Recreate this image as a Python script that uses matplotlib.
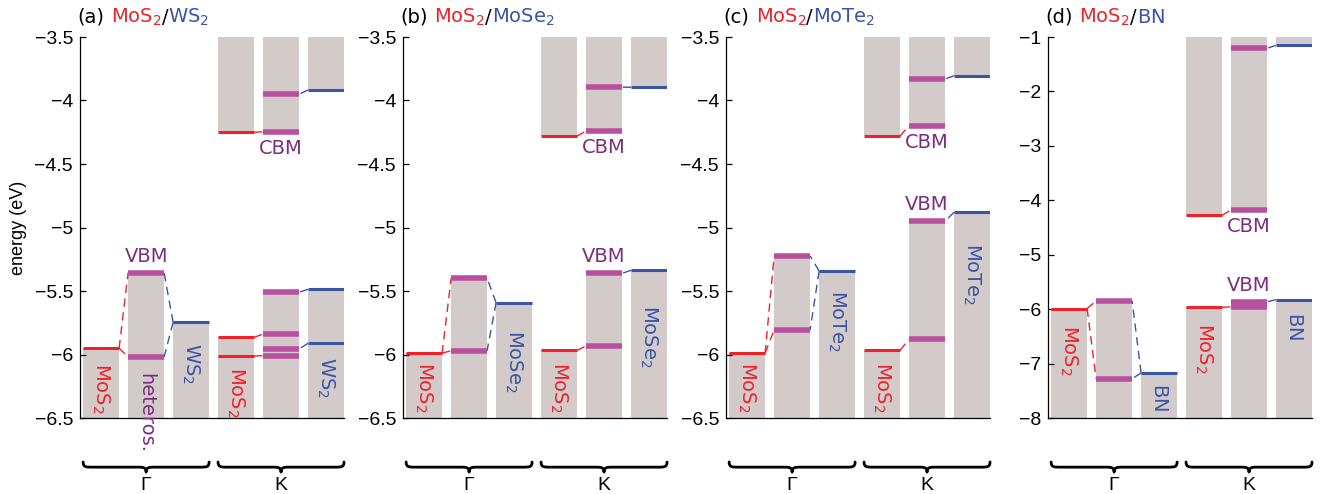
import matplotlib
matplotlib.use('Agg')
import matplotlib.pyplot as plt
import matplotlib.transforms as mtransforms
from matplotlib.path import Path
from matplotlib.patches import PathPatch
from matplotlib.offsetbox import TextArea, HPacker, AnchoredOffsetbox
from matplotlib.ticker import FixedLocator, FuncFormatter
import numpy as np

# ---------------- data (energies in eV) ----------------
panel_tags = ['(a)', '(b)', '(c)', '(d)']
partner_names = [r'$\mathregular{WS_2}$', r'$\mathregular{MoSe_2}$',
                 r'$\mathregular{MoTe_2}$', r'$\mathregular{BN}$']
mos2_name = r'$\mathregular{MoS_2}$'
ylim_low = [-6.5, -6.5, -6.5, -8.0]
ylim_high = [-3.5, -3.5, -3.5, -1.0]
ytick_step = [0.5, 0.5, 0.5, 1.0]
point_names = ['Γ', 'K']

# valence states at Gamma
gamma_mos2 = [[-5.95], [-5.99], [-5.99], [-5.99]]
gamma_hetero = [[-5.356, -6.02], [-5.40, -5.97], [-5.224, -5.807], [-5.847, -7.278]]
gamma_partner = [[-5.747], [-5.592], [-5.343], [-7.173]]
# valence states at K
k_vb_mos2 = [[-5.865, -6.012], [-5.967], [-5.967], [-5.966]]
k_vb_hetero = [[-5.51, -5.839, -5.957, -6.009], [-5.361, -5.933], [-4.951, -5.88], [-5.865, -5.957]]
k_vb_partner = [[-5.487, -5.912], [-5.337], [-4.88], [-5.826]]
# conduction states at K
k_cb_mos2 = [[-4.25], [-4.28], [-4.28], [-4.276]]
k_cb_hetero = [[-3.951, -4.246], [-3.894, -4.24], [-3.831, -4.198], [-1.208, -4.178]]
k_cb_partner = [[-3.917], [-3.896], [-3.805], [-1.153]]

# ---------------- placement of annotations ----------------
# top of rotated labels: [Gamma MoS2, Gamma partner, K MoS2, K partner]
label_tops = [[-6.067, -5.909, -6.098, -6.02],
              [-6.059, -5.807, -6.059, -5.61],
              [-6.059, -5.492, -6.059, -5.122],
              [-6.291, -7.357, -6.255, -6.052]]
hetero_label_top = -6.146
vbm_point = ['G', 'K', 'K', 'K']

# ---------------- styles ----------------
RED = '#EE2229'
BLUE = '#3A55A6'
MAG = '#B9509F'
PURPLE = '#7B2D80'
GRAY = '#D3CACA'
W, H = 1321, 494
fig = plt.figure(figsize=(W / 100, H / 100), dpi=100)
ax_left_px = [80, 403, 726, 1048]
ax_w_px = 264
ax_top_px, ax_bot_px = 37, 418
XLIM = (0.53, 6.4)
BW = 0.8
DASH = (0, (6, 4))


def fmt(v, pos=None):
    return ('%g' % v).replace('-', '\u2212')


for i in range(4):
    lo, hi = ylim_low[i], ylim_high[i]
    ax = fig.add_axes([ax_left_px[i] / W, (H - ax_bot_px) / H,
                       ax_w_px / W, (ax_bot_px - ax_top_px) / H])
    ax.set_xlim(*XLIM)
    ax.set_ylim(lo, hi)
    for s in ['top', 'right']:
        ax.spines[s].set_visible(False)
    ax.spines['left'].set_linewidth(0.9)
    ax.spines['bottom'].set_linewidth(0.9)
    ax.set_xticks([])
    ticks = np.arange(lo, hi + 1e-9, ytick_step[i])
    ax.yaxis.set_major_locator(FixedLocator(ticks))
    ax.yaxis.set_major_formatter(FuncFormatter(fmt))
    ax.tick_params(axis='y', direction='in', length=4, width=0.9, labelsize=14,
                   pad=5, labelfontfamily='Liberation Sans')

    # groups: x positions 1..3 = Gamma (MoS2, hetero, partner), 4..6 = K
    vb_groups = [(1, gamma_mos2[i], RED), (2, gamma_hetero[i], MAG), (3, gamma_partner[i], BLUE),
                 (4, k_vb_mos2[i], RED), (5, k_vb_hetero[i], MAG), (6, k_vb_partner[i], BLUE)]
    cb_groups = [(4, k_cb_mos2[i], RED), (5, k_cb_hetero[i], MAG), (6, k_cb_partner[i], BLUE)]

    for x, lev, c in vb_groups:
        top = max(lev)
        ax.bar(x, top - lo, bottom=lo, width=BW, color=GRAY, zorder=1, linewidth=0)
    for x, lev, c in cb_groups:
        bot = min(lev)
        ax.bar(x, hi - bot, bottom=bot, width=BW, color=GRAY, zorder=1, linewidth=0)

    # connectors
    def connect(xa, la, xb, lb, color, nearest):
        for ya in la:
            targets = lb if not nearest else [min(lb, key=lambda v: abs(v - ya))]
            for yb in targets:
                ax.plot([xa, xb], [ya, yb], color=color, lw=1.0, ls=DASH, zorder=2)

    connect(1 + BW / 2, gamma_mos2[i], 2 - BW / 2, gamma_hetero[i], RED, False)
    connect(3 - BW / 2, gamma_partner[i], 2 + BW / 2, gamma_hetero[i], BLUE, False)
    connect(4 + BW / 2, k_vb_mos2[i], 5 - BW / 2, k_vb_hetero[i], RED, True)
    connect(6 - BW / 2, k_vb_partner[i], 5 + BW / 2, k_vb_hetero[i], BLUE, True)
    connect(4 + BW / 2, k_cb_mos2[i], 5 - BW / 2, k_cb_hetero[i], RED, True)
    connect(6 - BW / 2, k_cb_partner[i], 5 + BW / 2, k_cb_hetero[i], BLUE, True)

    # level lines
    for x, lev, c in vb_groups + cb_groups:
        lw = 4.0 if c == MAG else 2.2
        ax.hlines(lev, x - BW / 2, x + BW / 2, colors=c, linewidth=lw,
                  capstyle='butt', zorder=3)

    # rotated species labels
    lt = label_tops[i]
    for x, name, c, yt in [(1, mos2_name, RED, lt[0]), (3, partner_names[i], BLUE, lt[1]),
                           (4, mos2_name, RED, lt[2]), (6, partner_names[i], BLUE, lt[3])]:
        ax.text(x, yt, name, color=c, rotation=-90, ha='center', va='top',
                fontsize=14, zorder=4)
    if i == 0:
        ax.text(2, hetero_label_top, 'heteros.', color=PURPLE, rotation=-90,
                ha='center', va='top', fontsize=14, zorder=4, clip_on=False)

    # CBM / VBM labels
    ax.annotate('CBM', xy=(5, min(k_cb_hetero[i])), xytext=(0, -12),
                textcoords='offset points', ha='center', va='center',
                color=PURPLE, fontsize=14, zorder=4)
    if vbm_point[i] == 'G':
        vx, vy = 2, max(gamma_hetero[i])
    else:
        vx, vy = 5, max(k_vb_hetero[i])
    ax.annotate('VBM', xy=(vx, vy), xytext=(0, 12), textcoords='offset points',
                ha='center', va='center', color=PURPLE, fontsize=14, zorder=4)

    # braces and k-point labels below the axes
    blend = mtransforms.blended_transform_factory(ax.transData, ax.transAxes)
    yt_, yf_, yb_ = -0.1155, -0.129, -0.142
    for g, (x0, x1) in enumerate([(1 - BW / 2, 3 + BW / 2), (4 - BW / 2, 6 + BW / 2)]):
        xm = (x0 + x1) / 2
        w, wm = 0.2, 0.18
        verts = [(x0, yt_), (x0, yf_), (x0 + 0.3 * w, yf_), (x0 + w, yf_),
                 (xm - wm, yf_),
                 (xm - 0.4 * wm, yf_), (xm, yf_), (xm, yb_),
                 (xm, yf_), (xm + 0.4 * wm, yf_), (xm + wm, yf_),
                 (x1 - w, yf_),
                 (x1 - 0.3 * w, yf_), (x1, yf_), (x1, yt_)]
        codes = [Path.MOVETO, Path.CURVE4, Path.CURVE4, Path.CURVE4,
                 Path.LINETO,
                 Path.CURVE4, Path.CURVE4, Path.CURVE4,
                 Path.CURVE4, Path.CURVE4, Path.CURVE4,
                 Path.LINETO,
                 Path.CURVE4, Path.CURVE4, Path.CURVE4]
        patch = PathPatch(Path(verts, codes), transform=blend, facecolor='none',
                          edgecolor='black', linewidth=2.0, clip_on=False,
                          capstyle='round', joinstyle='round')
        ax.add_patch(patch)
        ax.text(xm, -0.176, point_names[g], transform=blend, ha='center', va='center',
                fontsize=14, family='Liberation Sans')

    if i == 0:
        ax.set_ylabel('energy (eV)', fontsize=13, family='Liberation Sans')
        ax.yaxis.set_label_coords(-0.2, 0.5)

    # multi-coloured panel title
    parts = HPacker(children=[TextArea(mos2_name, textprops=dict(color=RED, fontsize=14)),
                              TextArea('/', textprops=dict(color='black', fontsize=14)),
                              TextArea(partner_names[i], textprops=dict(color=BLUE, fontsize=14))],
                    align='baseline', pad=0, sep=0)
    title = HPacker(children=[TextArea(panel_tags[i], textprops=dict(color='black', fontsize=14)),
                              parts], align='baseline', pad=0, sep=5)
    ab = AnchoredOffsetbox(loc='lower left', child=title, pad=0, borderpad=0, frameon=False,
                           bbox_to_anchor=((ax_left_px[i] - 3) / W, (H - 28) / H),
                           bbox_transform=fig.transFigure)
    fig.add_artist(ab)

fig.savefig('out.png', dpi=100)
